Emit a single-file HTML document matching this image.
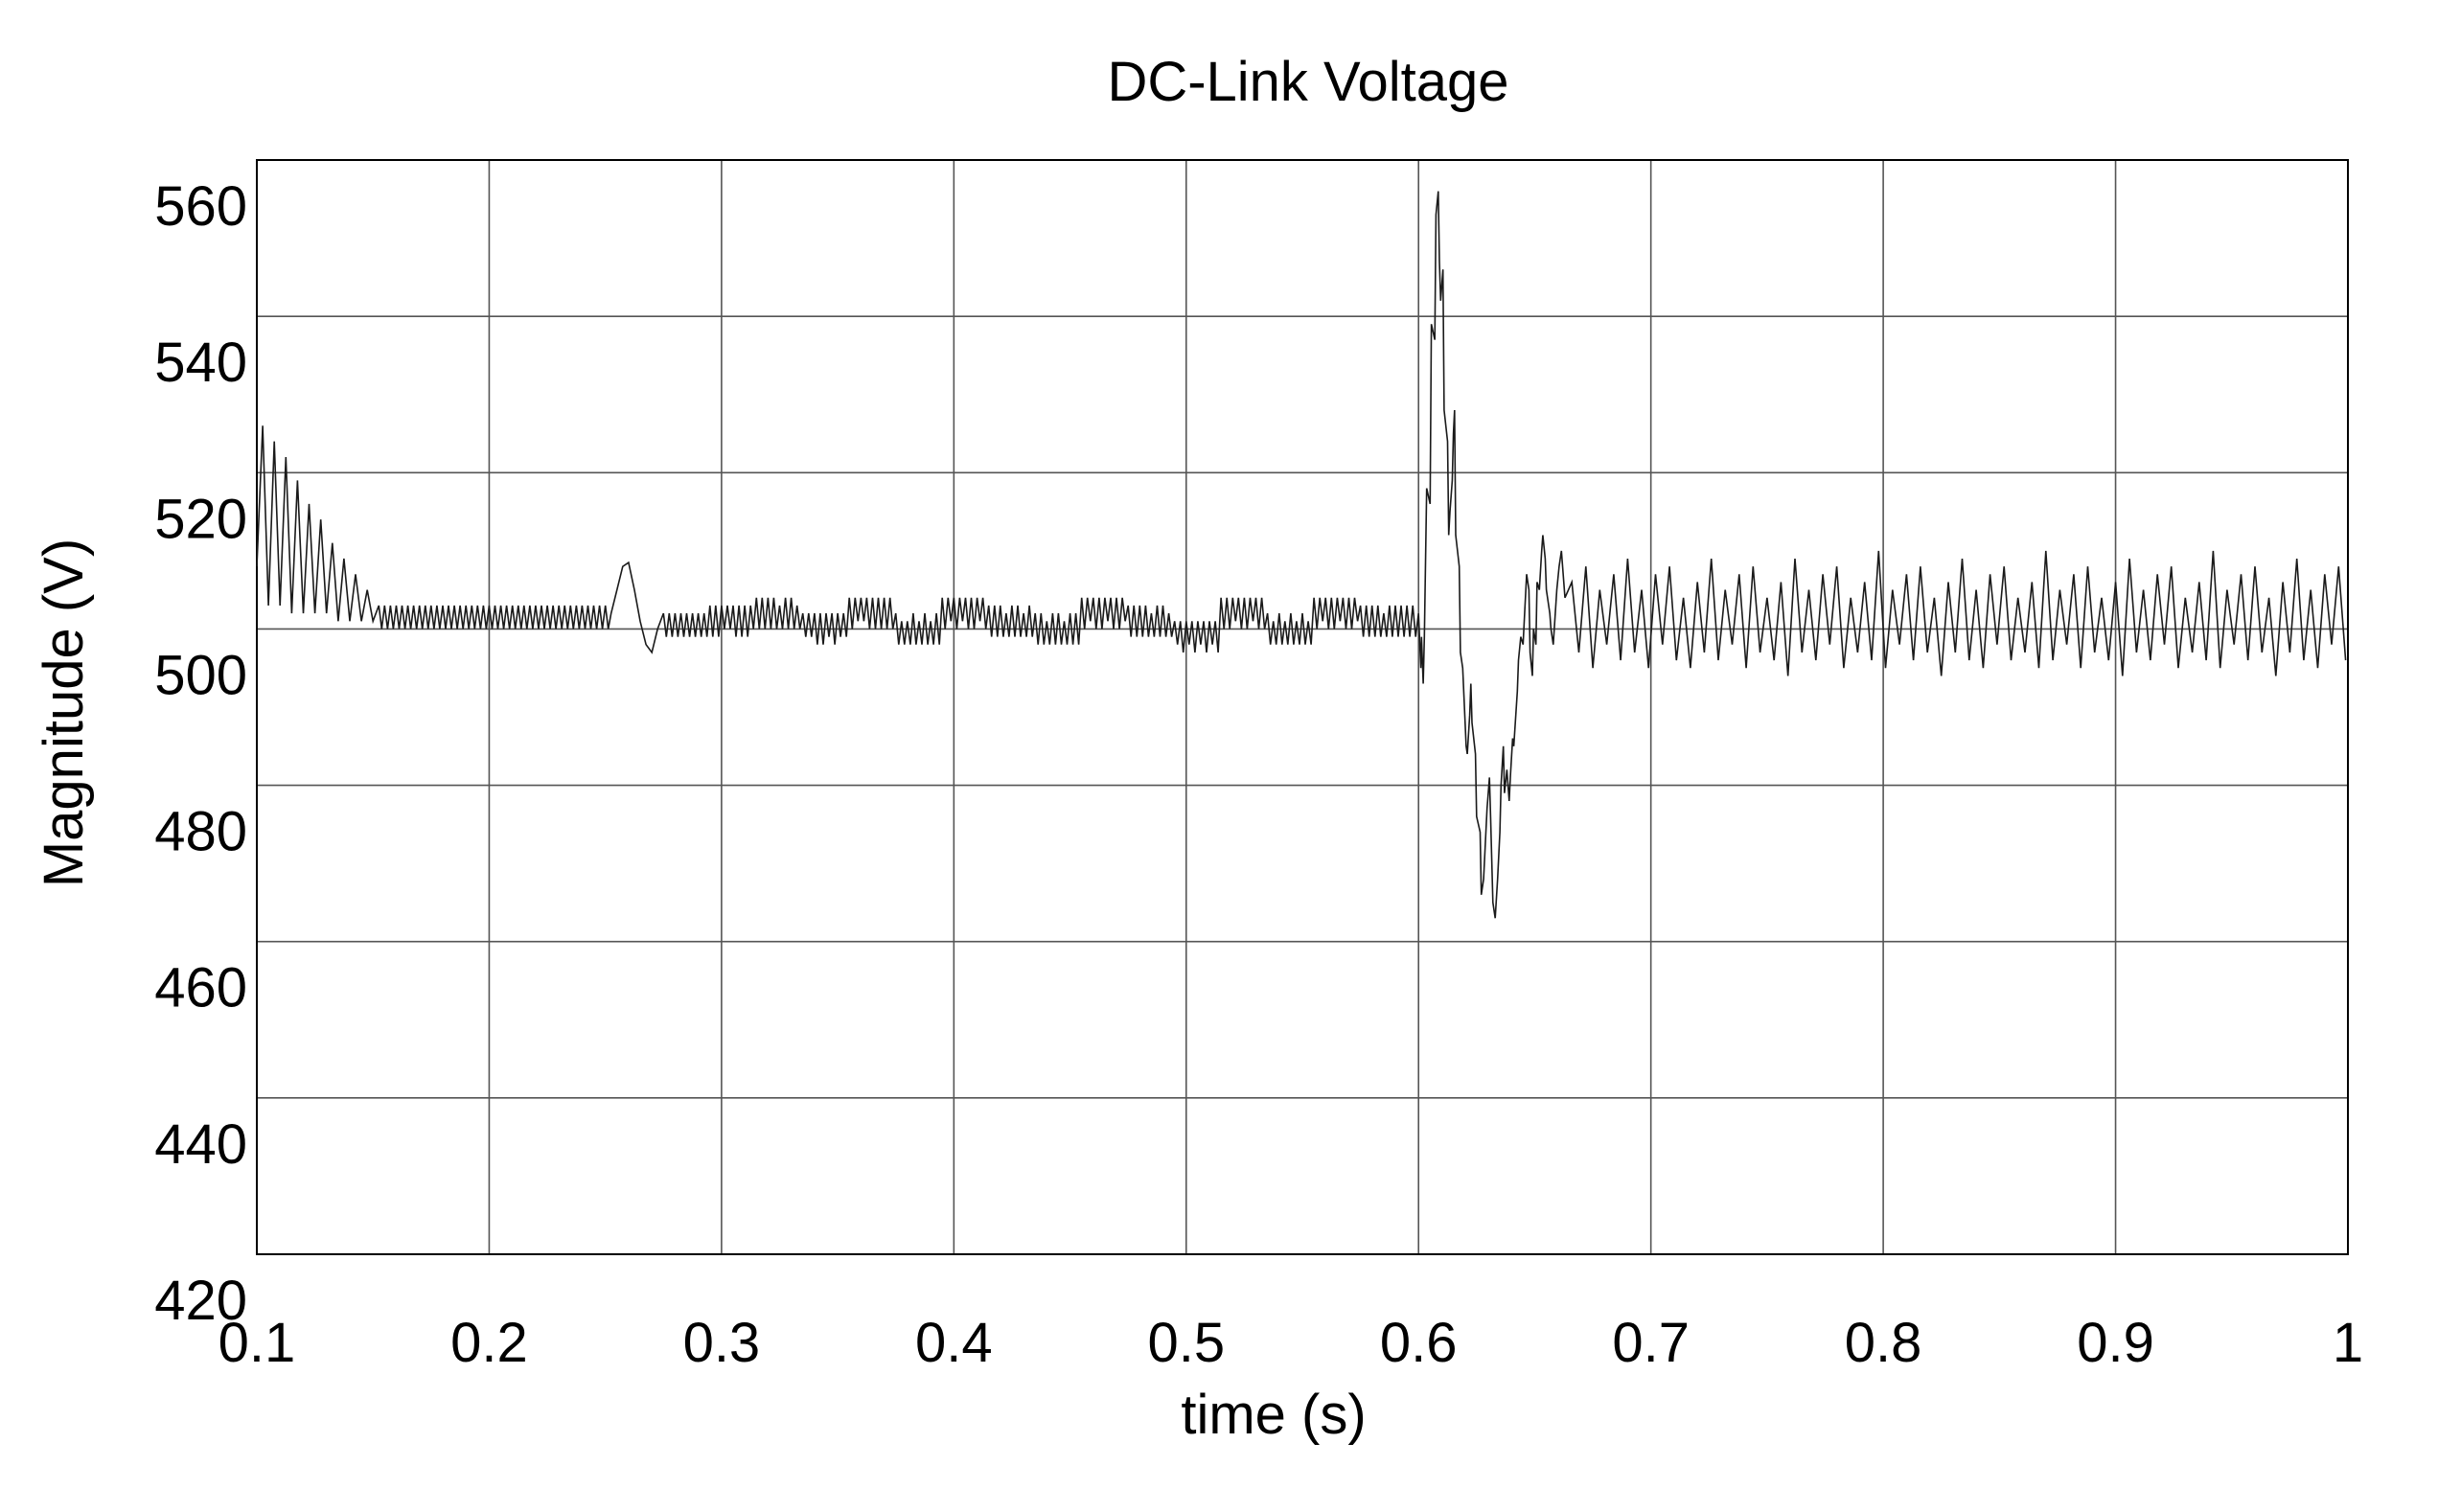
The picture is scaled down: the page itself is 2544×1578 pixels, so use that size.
<!DOCTYPE html>
<html><head><meta charset="utf-8"><style>
html,body{margin:0;padding:0;background:#fff;}
svg{display:block;font-family:"Liberation Sans",sans-serif;}
</style></head>
<body>
<svg id="chart" width="2544" height="1578" viewBox="0 0 2544 1578" xmlns="http://www.w3.org/2000/svg">
<rect width="2544" height="1578" fill="#fff"/>
<g id="grid"></g>
<rect x="268" y="167" width="2182" height="1142" fill="none" stroke="#000" stroke-width="2"/>
<path id="series" fill="none" stroke="#1a1a1a" stroke-width="1.6" stroke-linejoin="miter"/>
<g id="labels"></g>
<text x="1365" y="105" font-size="58" text-anchor="middle">DC-Link Voltage</text>
<text x="1329" y="1496" font-size="58" text-anchor="middle">time (s)</text>
<text x="0" y="0" font-size="58" text-anchor="middle" transform="translate(86,744) rotate(-90)">Magnitude (V)</text>
</svg>
<script>
const xTicks = [0.1,0.2,0.3,0.4,0.5,0.6,0.7,0.8,0.9,1];
const xTickLabels = ["0.1","0.2","0.3","0.4","0.5","0.6","0.7","0.8","0.9","1"];
const yTicks = [420,440,460,480,500,520,540,560];
const yTickLabels = ["420","440","460","480","500","520","540","560"];

const segAStart = 0.100, segAStep = 0.0025;
const segAValues = [508,526,503,524,503,522,502,519,502,516,502,514,502,511,501,509,501,507,501,505,501];
const segBStart = 0.1525, segBStep = 0.00125;
const segBValues = [503,500,503,500,503,500,503,500,503,500,503,500,503,500,503,500,503,500,503,500,503,500,503,500,503,500,503,500,503,500,503,500,503,500,503,500,503,500,503,500,
 503,500,503,500,503,500,503,500,503,500,503,500,503,500,503,500,503,500,503,500,503,500,503,500,503,500,503,500,503,500,503,500,503,500,503,500,503,500,503,500];
const segCStart = 0.2525, segCStep = 0.0025;
const segCValues = [502,505,508,508.5,505,501,498,497,500];
const segDStart = 0.275, segDStep = 0.00125;
const segDValues = [
 502,499,502,499,502,499,502,499,502,499,502,499,502,499,502,499,
 503,499,503,499,503,500,503,500,503,499,503,499,503,499,503,500,
 504,500,504,500,504,500,504,500,503,500,504,500,504,500,503,500,
 502,499,502,499,502,498,502,498,502,499,502,498,502,499,502,499,
 504,500,504,501,504,501,504,500,504,500,504,500,504,500,504,500,
 502,498,501,498,501,498,502,498,501,498,502,498,501,498,502,498,
 504,500,504,501,504,500,504,501,504,500,504,500,504,501,504,500,
 503,499,503,499,503,499,502,499,503,499,503,499,502,499,503,499,
 502,498,502,498,501,498,502,498,502,498,501,498,502,498,502,498,
 504,500,504,501,504,500,504,500,504,501,504,500,504,500,504,501,
 503,499,503,499,503,499,503,499,502,499,503,499,503,499,502,499,
 501,498,501,497,501,498,501,497,501,498,501,497,501,498,501,497,
 504,500,504,500,504,501,504,500,504,500,504,501,504,500,504,500,
 502,498,501,498,502,498,501,498,502,498,501,498,502,498,501,498,
 504,500,504,501,504,500,504,500,504,501,504,500,504,500,504,501,
 503,499,503,499,503,499,503,499,502,499,503,499,503,499,503,499,
 503,499,503,499,502,499,499];
const segETimes = [0.601,0.602,0.6035,0.605,0.6055,0.607,0.6075,0.6085,0.609,0.6095,0.6105,0.611,0.6125,0.613,0.6135,0.6145,0.615,0.6155,0.616,0.6175,0.618,0.619,0.6205,0.621,0.622,0.6225,0.623,0.6245,0.625,0.6265,0.627,0.628,0.6295,0.6305,0.631,0.632,0.633,0.634,0.635,0.6355,0.6365,0.637,0.638,0.639,0.6395,0.6405,0.641,0.6425,0.643,0.644,0.645,0.6455,0.6465,0.6475,0.648,0.649,0.6495,0.6505,0.651,0.652,0.653,0.6535,0.6545,0.655,0.6565,0.657,0.658,0.6595,0.6605,0.6615,0.663];
const segEValues = [495,493,518,516,539,537,553,556,547,542,546,528,524,512,515,519,525,528,512,508,497,495,485,484,489,493,488,484,476,474,466,468,477,481,476,465,463,468,474,480,485,479,482,478,481,486,485,492,496,499,498,501,507,505,497,494,500,498,506,505,510,512,509,505,502,500,498,505,508,510,504];
const segFStart = 0.666, segFStep = 0.003;
const segFValues = [506,497,508,495,505,498,507,496,509,497,505,495,507,498,508,496,504,495,506,497,509,496,505,498,507,495,508,497,504,496,506,494,509,497,505,496,507,498,508,495,504,497,506,496,510,495,505,498,507,496,508,497,504,494,506,497,509,496,505,495,507,498,508,496,504,497,506,495,510,496,505,498,507,495,508,497,504,496,506,494,509,497,505,496,507,498,508,495,504,497,506,496,510,495,505,498,507,496,508,497,504,494,506,497,509,496,505,495,507,498,508,496];

const X0=268, X1=2450, Y0=1309, Y1=167;
function xs(t){ return X0 + (t-0.1)/(1-0.1)*(X1-X0); }
function ys(v){ return Y0 - (v-420)/(560-420)*(Y0-Y1); }

const NS="http://www.w3.org/2000/svg";
const grid=document.getElementById('grid');
const labels=document.getElementById('labels');
xTicks.forEach((t,i)=>{
  const x=xs(t);
  if(i>0 && i<xTicks.length-1){
    const l=document.createElementNS(NS,'line');
    l.setAttribute('x1',x);l.setAttribute('x2',x);l.setAttribute('y1',Y1);l.setAttribute('y2',Y0);
    l.setAttribute('stroke','#555');l.setAttribute('stroke-width','1.6');
    
    
    grid.appendChild(l);
  }
  const tx=document.createElementNS(NS,'text');
  tx.setAttribute('x',x);tx.setAttribute('y',1421);tx.setAttribute('font-size','58');tx.setAttribute('text-anchor','middle');
  tx.textContent=xTickLabels[i];
  
  
  labels.appendChild(tx);
});
yTicks.forEach((v,i)=>{
  const y=ys(v);
  if(i>0 && i<yTicks.length-1){
    const l=document.createElementNS(NS,'line');
    l.setAttribute('x1',X0);l.setAttribute('x2',X1);l.setAttribute('y1',y);l.setAttribute('y2',y);
    l.setAttribute('stroke','#555');l.setAttribute('stroke-width','1.6');
    
    
    grid.appendChild(l);
  }
  const tx=document.createElementNS(NS,'text');
  tx.setAttribute('x',258);tx.setAttribute('y',y+68);tx.setAttribute('font-size','58');tx.setAttribute('text-anchor','end');
  tx.textContent=yTickLabels[i];
  
  
  labels.appendChild(tx);
});

const pts=[];
function addUniform(start,step,vals){ vals.forEach((v,i)=>pts.push([start+i*step,v])); }
addUniform(segAStart,segAStep,segAValues);
addUniform(segBStart,segBStep,segBValues);
addUniform(segCStart,segCStep,segCValues);
addUniform(segDStart,segDStep,segDValues);
segETimes.forEach((t,i)=>pts.push([t,segEValues[i]]));
addUniform(segFStart,segFStep,segFValues);
pts.sort((a,b)=>a[0]-b[0]);
let d='';
pts.forEach((p,i)=>{ d+=(i?'L':'M')+xs(p[0]).toFixed(1)+' '+ys(p[1]).toFixed(1); });
document.getElementById('series').setAttribute('d',d);
</script>
</body></html>
